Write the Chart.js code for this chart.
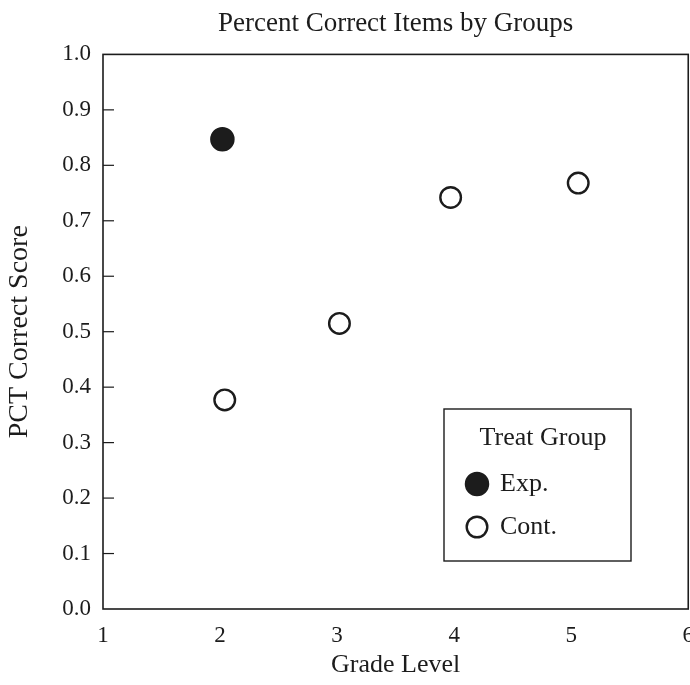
<!DOCTYPE html>
<html>
<head>
<meta charset="utf-8">
<script src="https://cdn.jsdelivr.net/npm/chart.js@4"></script>
<style>
  html, body { margin: 0; padding: 0; background: #fff; overflow: hidden; }
  /* un poco mas ancho que la ventana: el borde derecho y el "6" quedan cortados como en la referencia */
  #wrap { width: 707px; height: 685px; }
</style>
</head>
<body>
<div id="wrap"><canvas id="scoreChart"></canvas></div>
<script>
// Datos
const expGrades = [2.02];
const expScores = [0.847];
const contGrades = [2.04, 3.02, 3.97, 5.06];
const contScores = [0.377, 0.515, 0.742, 0.768];
const xTicks = [1, 2, 3, 4, 5, 6];
const yTicks = [0.0, 0.1, 0.2, 0.3, 0.4, 0.5, 0.6, 0.7, 0.8, 0.9, 1.0];
const groupNames = ['Exp.', 'Cont.'];

const ink = '#1c1c1c';
const serif = '"Liberation Serif", "DejaVu Serif", serif';

function toPoints(xs, ys) {
  return xs.map((x, i) => ({ x: x, y: ys[i] }));
}

// Marco completo, marcas internas del eje y y leyenda dentro del area
const framePlugin = {
  id: 'frame',
  afterDraw(chart) {
    const ctx = chart.ctx;
    const a = chart.chartArea;
    const yScale = chart.scales.y;
    ctx.save();
    ctx.strokeStyle = ink;
    ctx.lineWidth = 1.6;
    ctx.strokeRect(a.left, a.top, a.right - a.left, a.bottom - a.top);
    ctx.lineWidth = 1.2;
    yScale.ticks.forEach(t => {
      if (t.value <= 0 || t.value >= 1) return;
      const py = yScale.getPixelForValue(t.value);
      ctx.beginPath();
      ctx.moveTo(a.left, py);
      ctx.lineTo(a.left + 11, py);
      ctx.stroke();
    });

    // leyenda
    const bx = 444, by = 409, bw = 187, bh = 152;
    ctx.fillStyle = '#fff';
    ctx.fillRect(bx, by, bw, bh);
    ctx.lineWidth = 1.4;
    ctx.strokeRect(bx, by, bw, bh);
    ctx.fillStyle = ink;
    ctx.font = '26px ' + serif;
    ctx.textBaseline = 'middle';
    ctx.textAlign = 'center';
    ctx.fillText('Treat Group', bx + 99, by + 29);
    ctx.textAlign = 'left';
    chart.data.datasets.forEach((ds, i) => {
      const cy = by + 75 + i * 43;
      const cx = bx + 33;
      ctx.beginPath();
      ctx.arc(cx, cy, ds.pointRadius, 0, Math.PI * 2);
      ctx.fillStyle = ds.pointBackgroundColor;
      ctx.fill();
      ctx.lineWidth = ds.pointBorderWidth;
      ctx.strokeStyle = ds.pointBorderColor;
      ctx.stroke();
      ctx.fillStyle = ink;
      ctx.fillText(groupNames[i], bx + 56, cy);
    });
    ctx.restore();
  }
};

function createScoreChart() {
  const ctx = document.getElementById('scoreChart').getContext('2d');
  new Chart(ctx, {
    type: 'scatter',
    data: {
      datasets: [{
        label: groupNames[0],
        data: toPoints(expGrades, expScores),
        pointRadius: 11.5,
        pointBackgroundColor: ink,
        pointBorderColor: ink,
        pointBorderWidth: 1.5
      }, {
        label: groupNames[1],
        data: toPoints(contGrades, contScores),
        pointRadius: 10.3,
        pointBackgroundColor: '#fff',
        pointBorderColor: ink,
        pointBorderWidth: 2.4
      }]
    },
    options: {
      responsive: true,
      maintainAspectRatio: false,
      animation: false,
      layout: { padding: { left: 0, right: 0, top: 0, bottom: 0 } },
      plugins: {
        legend: { display: false },
        tooltip: { enabled: false },
        title: {
          display: true,
          fullSize: false,
          text: 'Percent Correct Items by Groups',
          color: ink,
          font: { family: serif, size: 27, weight: 'normal' },
          padding: { top: 8, bottom: 14 }
        }
      },
      scales: {
        x: {
          type: 'linear',
          min: xTicks[0],
          max: xTicks[xTicks.length - 1],
          afterBuildTicks: s => { s.ticks = xTicks.map(v => ({ value: v })); },
          afterFit: s => { s.height = 76; },
          grid: { display: false, drawTicks: false },
          border: { display: false },
          ticks: {
            color: ink,
            padding: 13,
            font: { family: serif, size: 23 },
            callback: v => String(v)
          },
          title: {
            display: true,
            text: 'Grade Level',
            color: ink,
            font: { family: serif, size: 26 },
            padding: { top: 0, bottom: 4 }
          }
        },
        y: {
          type: 'linear',
          min: 0,
          max: 1,
          afterBuildTicks: s => { s.ticks = yTicks.map(v => ({ value: v })); },
          afterFit: s => { s.width = 103; },
          grid: { display: false, drawTicks: false },
          border: { display: false },
          ticks: {
            color: ink,
            padding: 12,
            font: { family: serif, size: 23 },
            callback: v => Number(v).toFixed(1)
          },
          title: {
            display: true,
            text: 'PCT Correct Score',
            color: ink,
            font: { family: serif, size: 28 },
            padding: { top: 3, bottom: 0 }
          }
        }
      }
    },
    plugins: [framePlugin]
  });
}

document.addEventListener('DOMContentLoaded', function() {
  createScoreChart();
});
</script>
</body>
</html>
